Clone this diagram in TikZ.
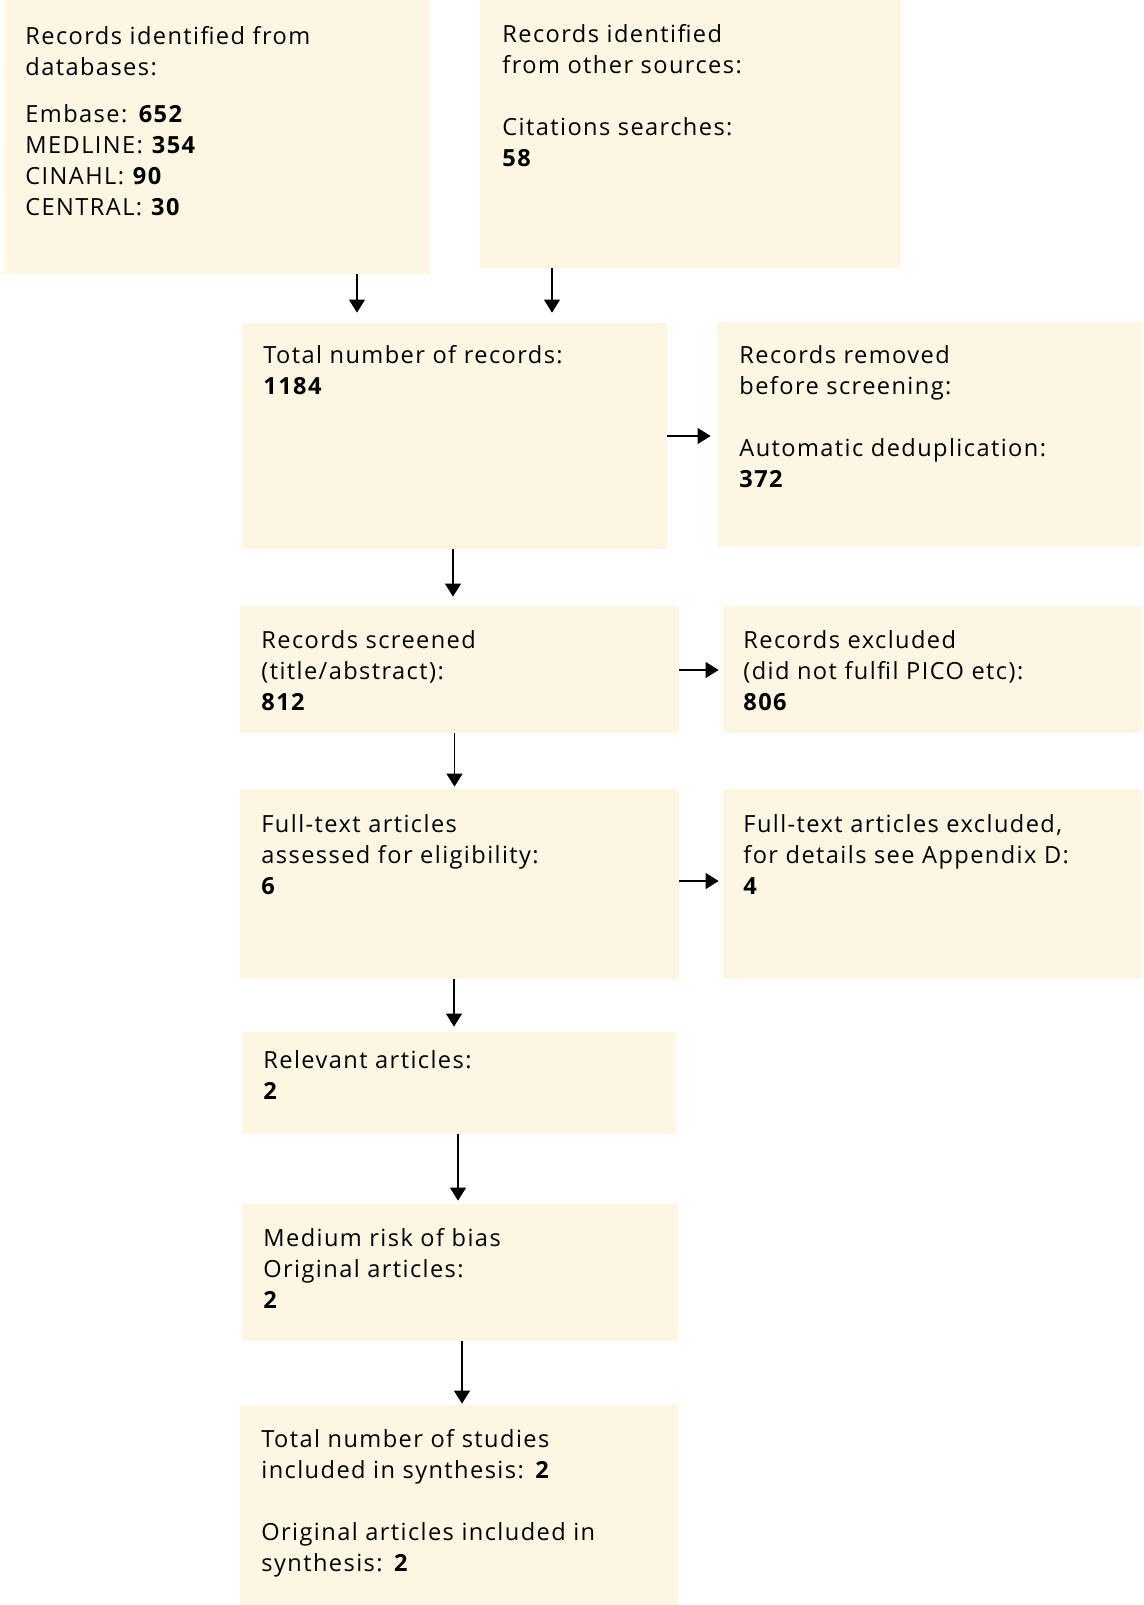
\documentclass[tikz,border=0pt]{standalone}
\usepackage{fontspec}
\setmainfont{Open Sans}[LetterSpace=6]
\usetikzlibrary{arrows.meta,fit}
\definecolor{cream}{RGB}{253,246,227}
\begin{document}
\begin{tikzpicture}[x=0.5pt,y=-0.5pt,
  box/.style={fill=cream,draw=none,inner sep=0pt,rectangle},
  txt/.style={anchor=base west,inner sep=0pt,font=\fontsize{11.8}{15.5}\selectfont},
  arr/.style={-{Triangle[width=8pt,length=6.5pt]},line width=0.6pt,black}]
\useasboundingbox (0,0) rectangle (1144,1605);
% boxes
\node[box,fit={(4,0)(430,274)}] (b1) {};
\node[box,fit={(480,0)(901,268)}] (b2) {};
\node[box,fit={(242,323)(667,549)}] (b3) {};
\node[box,fit={(717,322)(1142,547)}] (b4) {};
\node[box,fit={(240,606)(679,733)}] (b5) {};
\node[box,fit={(723,606)(1142,733)}] (b6) {};
\node[box,fit={(240,789)(679,979)}] (b7) {};
\node[box,fit={(723,789)(1142,979)}] (b8) {};
\node[box,fit={(242,1032)(676,1134)}] (b9) {};
\node[box,fit={(242,1204)(678,1341)}] (b10) {};
\node[box,fit={(240,1405)(678,1605)}] (b11) {};
% texts
\node[txt] (t1) at (25,45) {\begin{tabular}[t]{@{}l@{}}Records identified from\\databases:\\[8pt]Embase: \textbf{652}\\MEDLINE: \textbf{354}\\CINAHL: \textbf{90}\\CENTRAL: \textbf{30}\end{tabular}};
\node[txt] (t2) at (502,43) {\begin{tabular}[t]{@{}l@{}}Records identified\\from other sources:\\[15.5pt]Citations searches:\\\textbf{58}\end{tabular}};
\node[txt] (t3) at (263,363) {\begin{tabular}[t]{@{}l@{}}Total number of records:\\\textbf{1184}\end{tabular}};
\node[txt] (t4) at (739,363) {\begin{tabular}[t]{@{}l@{}}Records removed\\before screening:\\[15.5pt]Automatic deduplication:\\\textbf{372}\end{tabular}};
\node[txt] (t5) at (261,648) {\begin{tabular}[t]{@{}l@{}}Records screened\\(title/abstract):\\\textbf{812}\end{tabular}};
\node[txt] (t6) at (743,648) {\begin{tabular}[t]{@{}l@{}}Records excluded\\(did not fulfil PICO etc):\\\textbf{806}\end{tabular}};
\node[txt] (t7) at (261,832) {\begin{tabular}[t]{@{}l@{}}Full-text articles\\assessed for eligibility:\\\textbf{6}\end{tabular}};
\node[txt] (t8) at (743,832) {\begin{tabular}[t]{@{}l@{}}Full-text articles excluded,\\for details see Appendix D:\\\textbf{4}\end{tabular}};
\node[txt] (t9) at (263,1068) {\begin{tabular}[t]{@{}l@{}}Relevant articles:\\\textbf{2}\end{tabular}};
\node[txt] (t10) at (263,1246) {\begin{tabular}[t]{@{}l@{}}Medium risk of bias\\Original articles:\\\textbf{2}\end{tabular}};
\node[txt] (t11) at (261,1447) {\begin{tabular}[t]{@{}l@{}}Total number of studies\\included in synthesis: \textbf{2}\\[15.5pt]Original articles included in\\synthesis: \textbf{2}\end{tabular}};
% arrows
\draw[arr,shorten >=5pt] (b1.south -| 357,0) -- (b3.north -| 357,0);
\draw[arr,shorten >=5pt] (b2.south -| 552,0) -- (b3.north -| 552,0);
\draw[arr,shorten >=3pt] (b3.east |- 0,436) -- (b4.west |- 0,436);
\draw[arr,shorten >=4.5pt] (b3.south -| 453,0) -- (b5.north -| 453,0);
\draw[arr,shorten >=2pt] (b5.east |- 0,670) -- (b6.west |- 0,670);
\draw[arr,shorten >=1pt] (b5.south -| 454.5,0) -- (b7.north -| 454.5,0);
\draw[arr,shorten >=2pt] (b7.east |- 0,881) -- (b8.west |- 0,881);
\draw[arr,shorten >=2.5pt] (b7.south -| 454,0) -- (b9.north -| 454,0);
\draw[arr,shorten >=1.5pt] (b9.south -| 458,0) -- (b10.north -| 458,0);
\draw[arr,shorten >=0.5pt] (b10.south -| 462,0) -- (b11.north -| 462,0);
\end{tikzpicture}
\end{document}
